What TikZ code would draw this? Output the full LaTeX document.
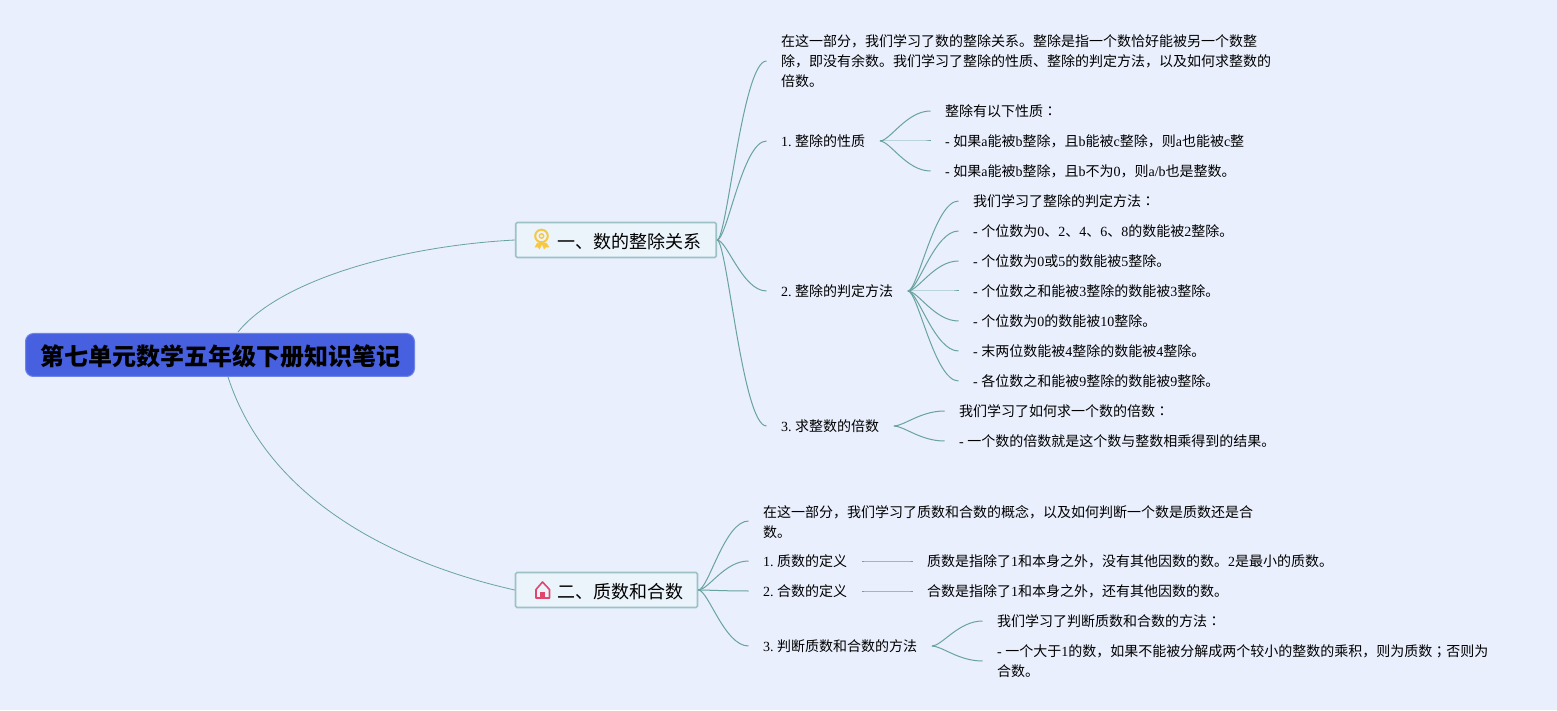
\documentclass[tikz,border=0pt]{standalone}
\usepackage{fontspec}
\setmainfont{Noto Sans CJK SC}
\newfontfamily\latinfont{Liberation Serif}
\newfontfamily\jpfont{Noto Sans CJK JP}
\newcommand{\en}[1]{{\latinfont #1}}
\newcommand{\punct}[1]{{\jpfont #1}}
\usetikzlibrary{positioning}
\definecolor{pagebg}{HTML}{E9EFFD}
\definecolor{linkcol}{HTML}{69A3A0}
\definecolor{rootfill}{HTML}{4760E0}
\definecolor{rootrim}{HTML}{6F84E8}
\definecolor{mainfill}{HTML}{EBF3FB}
\definecolor{mainrim}{HTML}{9CC2C6}
\definecolor{medal}{HTML}{F7C843}
\definecolor{homecol}{HTML}{E2466E}
\tikzset{
  rootnode/.style={draw=rootrim,fill=rootfill,line width=1pt,rounded corners=8pt,minimum width=389pt,minimum height=43pt,inner sep=0pt,text depth=0pt,font=\fontsize{24}{28}\selectfont\bfseries},
  mainnode/.style={draw=mainrim,fill=mainfill,line width=1.6pt,rounded corners=1.5pt,minimum height=35pt,inner sep=0pt,text depth=0pt,font=\fontsize{18}{22}\selectfont},
  textnode/.style={anchor=west,inner xsep=14.5pt,inner ysep=0pt,align=left,text depth=0pt,font=\frenchspacing\fontsize{14}{20}\selectfont},
  nextleaf/.style={textnode,below=30pt of #1.west,anchor=west},
  branch/.style={draw=linkcol,line width=1pt,to path={.. controls +(10,0) and +(-24,0) .. (\tikztotarget)}},
  rootlink/.style={draw=linkcol,line width=0.8pt},
}
\begin{document}
\begin{tikzpicture}[x=1pt,y=1pt]
        \fill[pagebg] (0,0) rectangle (1557,710);

        \node[rootnode] (root) at (220,355) {\raisebox{-1pt}{第七单元数学五年级下册知识笔记}};
        \node[mainnode,minimum width=200.5pt] (n1) at (616,470) {\hspace{26pt}\raisebox{-1pt}{一、数的整除关系}};
        \node[mainnode,minimum width=182pt] (n2) at (606.5,120) {\hspace{27pt}\raisebox{-1pt}{二、质数和合数}};
        \coordinate (r1) at (238,378);
        \coordinate (r2) at (228,333);

        % first main topic
        \node[textnode] (t0) at (766.5,649) {在这一部分，我们学习了数的整除关系。整除是指一个数恰好能被另一个数整\\除，即没有余数。我们学习了整除的性质、整除的判定方法，以及如何求整数的\\倍数。};
        \node[textnode] (t1) at (766.5,569) {\en{1. }整除的性质};
        \node[textnode] (t2) at (766.5,419) {\en{2. }整除的判定方法};
        \node[textnode] (t3) at (766.5,284) {\en{3. }求整数的倍数};

        \node[textnode] (a1) at (930.5,599) {整除有以下性质\punct{：}};
        \node[nextleaf=a1] (a2) {\en{- }如果\en{a}能被\en{b}整除，且\en{b}能被\en{c}整除，则\en{a}也能被\en{c}整};
        \node[nextleaf=a2] (a3) {\en{- }如果\en{a}能被\en{b}整除，且\en{b}不为\en{0}，则\en{a/b}也是整数。};

        \node[textnode] (c1) at (958.5,509) {我们学习了整除的判定方法\punct{：}};
        \node[nextleaf=c1] (c2) {\en{- }个位数为\en{0}、\en{2}、\en{4}、\en{6}、\en{8}的数能被\en{2}整除。};
        \node[nextleaf=c2] (c3) {\en{- }个位数为\en{0}或\en{5}的数能被\en{5}整除。};
        \node[nextleaf=c3] (c4) {\en{- }个位数之和能被\en{3}整除的数能被\en{3}整除。};
        \node[nextleaf=c4] (c5) {\en{- }个位数为\en{0}的数能被\en{10}整除。};
        \node[nextleaf=c5] (c6) {\en{- }末两位数能被\en{4}整除的数能被\en{4}整除。};
        \node[nextleaf=c6] (c7) {\en{- }各位数之和能被\en{9}整除的数能被\en{9}整除。};

        \node[textnode] (d1) at (944.5,299) {我们学习了如何求一个数的倍数\punct{：}};
        \node[nextleaf=d1] (d2) {\en{- }一个数的倍数就是这个数与整数相乘得到的结果。};

        % second main topic
        \node[textnode] (b0) at (748.5,189) {在这一部分，我们学习了质数和合数的概念，以及如何判断一个数是质数还是合\\数。};
        \node[textnode] (b1) at (748.5,149) {\en{1. }质数的定义};
        \node[textnode] (b2) at (748.5,119) {\en{2. }合数的定义};
        \node[textnode] (b3) at (748.5,64) {\en{3. }判断质数和合数的方法};

        \node[textnode] (e1) at (912.5,149) {质数是指除了\en{1}和本身之外，没有其他因数的数。\en{2}是最小的质数。};
        \node[textnode] (f1) at (912.5,119) {合数是指除了\en{1}和本身之外，还有其他因数的数。};
        \node[textnode] (g1) at (982.5,89) {我们学习了判断质数和合数的方法\punct{：}};
        \node[textnode] (g2) at (982.5,49) {\en{- }一个大于\en{1}的数，如果不能被分解成两个较小的整数的乘积，则为质数\punct{；}否则为\\合数。};

        \draw[rootlink] (r1) .. controls +(42,52) and +(-115,-6) .. (n1.west);
        \draw[rootlink] (r2) .. controls +(40,-123) and +(-120,27) .. (n2.west);

        \path (n1.east)
          edge[branch] (t0.west)
          edge[branch] (t1.west)
          edge[branch] (t2.west)
          edge[branch] (t3.west);
        \path (t1.east)
          edge[branch] (a1.west)
          edge[branch] (a2.west)
          edge[branch] (a3.west);
        \path (t2.east)
          edge[branch] (c1.west)
          edge[branch] (c2.west)
          edge[branch] (c3.west)
          edge[branch] (c4.west)
          edge[branch] (c5.west)
          edge[branch] (c6.west)
          edge[branch] (c7.west);
        \path (t3.east)
          edge[branch] (d1.west)
          edge[branch] (d2.west);

        \path (n2.east)
          edge[branch] (b0.west)
          edge[branch] (b1.west)
          edge[branch] (b2.west)
          edge[branch] (b3.west);
        \path (b1.east) edge[branch] (e1.west);
        \path (b2.east) edge[branch] (f1.west);
        \path (b3.east)
          edge[branch] (g1.west)
          edge[branch] (g2.west);

        % icons
        \draw[medal,line width=2pt] (541.5,474) circle (6.3);
        \draw[medal,line width=1.4pt] (541.5,474) circle (2.2);
        \fill[medal,line join=round] (537,467) -- (534.5,462.5) -- (538,462.5) -- (539.5,460.5) -- (542,465.5) -- (544,460.5) -- (545.5,462.5) -- (549.5,462.5) -- (546.5,467) -- cycle;
        \draw[homecol,line width=1.6pt,line join=round] (536,112) -- (536,120.5) -- (542.5,128) -- (549.5,120.5) -- (549.5,112) -- cycle;
        \fill[homecol] (540,112) rectangle (545,118);
      \end{tikzpicture}
\end{document}
